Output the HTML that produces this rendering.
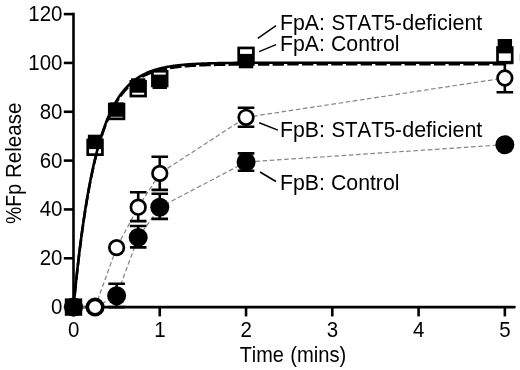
<!DOCTYPE html><html><head><meta charset="utf-8"><title>Fp Release</title>
<style>html,body{margin:0;padding:0;background:#fff}body{width:520px;height:370px;overflow:hidden}svg{display:block}text{font-kerning:none;font-family:"Liberation Sans",Arial,sans-serif;fill:#000}</style></head><body>
<svg width="520" height="370" viewBox="0 0 520 370">
<rect width="520" height="370" fill="#fff"/>
<g stroke="#000" stroke-width="2.6" fill="none">
<path d="M73.50 12.80V308.40"/>
<path d="M72.20 307.10H514.5" stroke-linecap="round"/>
<path d="M63.8 307.10H73.50"/>
<path d="M63.8 258.27H73.50"/>
<path d="M63.8 209.43H73.50"/>
<path d="M63.8 160.60H73.50"/>
<path d="M63.8 111.76H73.50"/>
<path d="M63.8 62.93H73.50"/>
<path d="M63.8 14.10H73.50"/>
<path d="M73.50 307.10V316.4"/>
<path d="M159.77 307.10V316.4"/>
<path d="M246.04 307.10V316.4"/>
<path d="M332.31 307.10V316.4"/>
<path d="M418.58 307.10V316.4"/>
<path d="M504.85 307.10V316.4"/>
</g>
<polyline points="73.5,307.1 95.1,307.1 116.6,247.6 138.2,207.2 159.8,173.4 246.0,117.3 504.8,78.0" fill="none" stroke="#858585" stroke-width="1.2" stroke-dasharray="4.6 2.6"/>
<polyline points="73.5,307.1 95.1,307.1 116.6,295.8 138.2,237.4 159.8,207.3 246.0,162.0 504.8,144.7" fill="none" stroke="#858585" stroke-width="1.2" stroke-dasharray="4.6 2.6"/>
<text transform="translate(62.50 314.00) scale(0.9580 1)" font-size="21.4" text-anchor="end">0</text>
<text transform="translate(62.50 265.17) scale(0.9580 1)" font-size="21.4" text-anchor="end">20</text>
<text transform="translate(62.50 216.33) scale(0.9580 1)" font-size="21.4" text-anchor="end">40</text>
<text transform="translate(62.50 167.50) scale(0.9580 1)" font-size="21.4" text-anchor="end">60</text>
<text transform="translate(62.50 118.66) scale(0.9580 1)" font-size="21.4" text-anchor="end">80</text>
<text transform="translate(62.50 69.83) scale(0.9580 1)" font-size="21.4" text-anchor="end">100</text>
<text transform="translate(62.50 21.00) scale(0.9580 1)" font-size="21.4" text-anchor="end">120</text>
<text transform="translate(73.70 337.00) scale(0.9580 1)" font-size="21.4" text-anchor="middle">0</text>
<text transform="translate(159.97 337.00) scale(0.9580 1)" font-size="21.4" text-anchor="middle">1</text>
<text transform="translate(246.24 337.00) scale(0.9580 1)" font-size="21.4" text-anchor="middle">2</text>
<text transform="translate(332.51 337.00) scale(0.9580 1)" font-size="21.4" text-anchor="middle">3</text>
<text transform="translate(418.78 337.00) scale(0.9580 1)" font-size="21.4" text-anchor="middle">4</text>
<text transform="translate(505.05 337.00) scale(0.9580 1)" font-size="21.4" text-anchor="middle">5</text>
<text y="362.00" font-size="21.4"><tspan x="239.65" textLength="44.23" lengthAdjust="spacingAndGlyphs">Time</tspan> <tspan x="290.25" textLength="56.11" lengthAdjust="spacingAndGlyphs">(mins)</tspan></text>
<text transform="translate(21.00 0) rotate(-90)" font-size="21.4"><tspan x="-223.99" textLength="40.01" lengthAdjust="spacingAndGlyphs">%Fp</tspan> <tspan x="-178.09" textLength="75.61" lengthAdjust="spacingAndGlyphs">Release</tspan></text>
<circle cx="73.50" cy="307.10" r="9.5" fill="#000"/>
<circle cx="95.07" cy="307.10" r="9.5" fill="#000"/>
<path d="M116.63 283.70V307.10M108.33 283.70h16.6M108.33 307.10h16.6" stroke="#000" stroke-width="2.6" fill="none"/>
<circle cx="116.63" cy="295.80" r="9.5" fill="#000"/>
<path d="M138.20 226.00V247.40M129.90 226.00h16.6M129.90 247.40h16.6" stroke="#000" stroke-width="2.6" fill="none"/>
<circle cx="138.20" cy="237.40" r="9.5" fill="#000"/>
<path d="M159.77 193.80V218.90M151.47 193.80h16.6M151.47 218.90h16.6" stroke="#000" stroke-width="2.6" fill="none"/>
<circle cx="159.77" cy="207.30" r="9.5" fill="#000"/>
<path d="M246.04 153.40V170.70M237.74 153.40h16.6M237.74 170.70h16.6" stroke="#000" stroke-width="2.6" fill="none"/>
<circle cx="246.04" cy="162.00" r="9.5" fill="#000"/>
<circle cx="504.85" cy="144.70" r="9.5" fill="#000"/>
<circle cx="73.50" cy="307.10" r="7.3" fill="#fff" stroke="#000" stroke-width="2.7"/>
<circle cx="95.07" cy="307.10" r="7.3" fill="#fff" stroke="#000" stroke-width="2.7"/>
<circle cx="116.63" cy="247.60" r="7.3" fill="#fff" stroke="#000" stroke-width="2.7"/>
<path d="M138.20 192.20V221.10M129.90 192.20h16.6M129.90 221.10h16.6" stroke="#000" stroke-width="2.6" fill="none"/>
<circle cx="138.20" cy="207.20" r="7.3" fill="#fff" stroke="#000" stroke-width="2.7"/>
<path d="M159.77 156.80V189.90M151.47 156.80h16.6M151.47 189.90h16.6" stroke="#000" stroke-width="2.6" fill="none"/>
<circle cx="159.77" cy="173.40" r="7.3" fill="#fff" stroke="#000" stroke-width="2.7"/>
<path d="M246.04 107.80V126.70M237.74 107.80h16.6M237.74 126.70h16.6" stroke="#000" stroke-width="2.6" fill="none"/>
<circle cx="246.04" cy="117.30" r="7.3" fill="#fff" stroke="#000" stroke-width="2.7"/>
<path d="M504.85 63.00V92.30M496.55 63.00h16.6M496.55 92.30h16.6" stroke="#000" stroke-width="2.6" fill="none"/>
<circle cx="504.85" cy="78.00" r="7.3" fill="#fff" stroke="#000" stroke-width="2.7"/>
<rect x="66.15" y="299.75" width="14.7" height="14.7" fill="#fff" stroke="#000" stroke-width="2.7"/>
<rect x="87.72" y="139.95" width="14.7" height="14.7" fill="#fff" stroke="#000" stroke-width="2.7"/>
<rect x="109.28" y="104.15" width="14.7" height="14.7" fill="#fff" stroke="#000" stroke-width="2.7"/>
<rect x="130.85" y="81.35" width="14.7" height="14.7" fill="#fff" stroke="#000" stroke-width="2.7"/>
<rect x="152.42" y="71.25" width="14.7" height="14.7" fill="#fff" stroke="#000" stroke-width="2.7"/>
<rect x="238.69" y="47.95" width="14.7" height="14.7" fill="#fff" stroke="#000" stroke-width="2.7"/>
<rect x="497.50" y="47.55" width="14.7" height="14.7" fill="#fff" stroke="#000" stroke-width="2.7"/>
<rect x="66.30" y="299.90" width="14.4" height="14.4" fill="#000"/>
<rect x="87.87" y="134.70" width="14.4" height="14.4" fill="#000"/>
<rect x="109.43" y="102.40" width="14.4" height="14.4" fill="#000"/>
<rect x="131.00" y="78.30" width="14.4" height="14.4" fill="#000"/>
<rect x="152.57" y="74.60" width="14.4" height="14.4" fill="#000"/>
<rect x="238.84" y="53.90" width="14.4" height="14.4" fill="#000"/>
<rect x="497.65" y="39.00" width="14.4" height="14.4" fill="#000"/>
<polyline points="73.50,307.10 73.50,307.09 73.50,307.05 73.51,306.99 73.52,306.90 73.53,306.79 73.54,306.65 73.56,306.48 73.58,306.30 73.60,306.08 73.62,305.85 73.64,305.58 73.67,305.30 73.70,304.98 73.73,304.65 73.77,304.29 73.81,303.90 73.85,303.49 73.89,303.06 73.93,302.60 73.98,302.12 74.03,301.62 74.08,301.09 74.13,300.54 74.19,299.96 74.25,299.36 74.31,298.74 74.37,298.10 74.44,297.44 74.51,296.75 74.58,296.04 74.65,295.31 74.73,294.56 74.80,293.78 74.89,292.99 74.97,292.17 75.05,291.33 75.14,290.48 75.23,289.60 75.32,288.70 75.42,287.79 75.51,286.85 75.61,285.90 75.72,284.92 75.82,283.93 75.93,282.92 76.04,281.89 76.15,280.84 76.26,279.78 76.38,278.70 76.50,277.60 76.62,276.49 76.74,275.36 76.87,274.22 76.99,273.06 77.12,271.88 77.26,270.69 77.39,269.49 77.53,268.27 77.67,267.04 77.81,265.79 77.96,264.53 78.11,263.26 78.26,261.97 78.41,260.68 78.56,259.37 78.72,258.05 78.88,256.72 79.04,255.38 79.20,254.03 79.37,252.67 79.54,251.30 79.71,249.92 79.89,248.53 80.06,247.13 80.24,245.72 80.42,244.31 80.60,242.89 80.79,241.46 80.98,240.02 81.17,238.58 81.36,237.14 81.56,235.68 81.75,234.22 81.95,232.76 82.16,231.29 82.36,229.82 82.57,228.34 82.78,226.86 82.99,225.38 83.21,223.89 83.42,222.40 83.64,220.91 83.86,219.41 84.09,217.92 84.31,216.42 84.54,214.92 84.77,213.43 85.01,211.93 85.24,210.43 85.48,208.93 85.72,207.43 85.97,205.93 86.21,204.44 86.46,202.94 86.71,201.45 86.96,199.96 87.22,198.47 87.48,196.98 87.74,195.50 88.00,194.02 88.26,192.54 88.53,191.07 88.80,189.60 89.07,188.14 89.35,186.68 89.62,185.22 89.90,183.77 90.18,182.32 90.47,180.88 90.75,179.45 91.04,178.02 91.33,176.60 91.63,175.18 91.92,173.77 92.22,172.37 92.52,170.97 92.83,169.58 93.13,168.20 93.44,166.83 93.75,165.46 94.06,164.10 94.38,162.75 94.69,161.41 95.01,160.07 95.34,158.75 95.66,157.43 95.99,156.12 96.32,154.83 96.65,153.54 96.98,152.26 97.32,150.98 97.66,149.72 98.00,148.47 98.35,147.23 98.69,146.00 99.04,144.77 99.39,143.56 99.75,142.36 100.10,141.17 100.46,139.99 100.82,138.81 101.18,137.65 101.55,136.50 101.92,135.36 102.29,134.24 102.66,133.12 103.03,132.01 103.41,130.92 103.79,129.83 104.17,128.76 104.56,127.69 104.95,126.64 105.33,125.60 105.73,124.57 106.12,123.55 106.52,122.54 106.92,121.55 107.32,120.56 107.72,119.59 108.13,118.63 108.54,117.68 108.95,116.74 109.36,115.81 109.78,114.89 110.19,113.98 110.62,113.09 111.04,112.20 111.46,111.33 111.89,110.47 112.32,109.62 112.75,108.78 113.19,107.95 113.63,107.13 114.07,106.32 114.51,105.53 114.95,104.74 115.40,103.97 115.85,103.21 116.30,102.45 116.75,101.71 117.21,100.98 117.67,100.26 118.13,99.55 118.60,98.85 119.06,98.16 119.53,97.48 120.00,96.81 120.47,96.15 120.95,95.51 121.43,94.87 121.91,94.24 122.39,93.62 122.88,93.01 123.36,92.41 123.85,91.82 124.35,91.24 124.84,90.67 125.34,90.11 125.84,89.56 126.34,89.02 126.84,88.48 127.35,87.96 127.86,87.44 128.37,86.94 128.89,86.44 129.40,85.95 129.92,85.47 130.44,85.00 130.97,84.54 131.49,84.08 132.02,83.63 132.55,83.20 133.09,82.76 133.62,82.34 134.16,81.93 134.70,81.52 135.24,81.12 135.79,80.73 136.33,80.34 136.88,79.97 137.44,79.60 137.99,79.23 138.55,78.88 139.11,78.53 139.67,78.19 140.23,77.85 140.80,77.53 141.37,77.20 141.94,76.89 142.52,76.58 143.09,76.28 143.67,75.98 144.25,75.69 144.84,75.41 145.42,75.13 146.01,74.86 146.60,74.59 147.19,74.33 147.79,74.08 148.39,73.83 148.99,73.58 149.59,73.34 150.20,73.11 150.80,72.88 151.41,72.66 152.02,72.44 152.64,72.23 153.26,72.02 153.88,71.81 154.50,71.61 155.12,71.42 155.75,71.23 156.38,71.04 157.01,70.86 157.64,70.68 158.28,70.51 158.92,70.34 159.56,70.18 160.20,70.01 160.85,69.86 161.50,69.70 162.15,69.55 162.80,69.41 163.46,69.26 164.11,69.13 164.77,68.99 165.44,68.86 166.10,68.73 166.77,68.60 167.44,68.48 168.11,68.36 168.79,68.24 169.46,68.13 170.14,68.02 170.82,67.91 171.51,67.80 172.19,67.70 172.88,67.60 173.57,67.50 174.27,67.41 174.96,67.32 175.66,67.23 176.36,67.14 177.07,67.06 177.77,66.97 178.48,66.89 179.19,66.81 179.90,66.74 180.62,66.66 181.34,66.59 182.06,66.52 182.78,66.45 183.51,66.38 184.23,66.32 184.96,66.26 185.69,66.20 186.43,66.14 187.17,66.08 187.90,66.02 188.65,65.97 189.39,65.92 190.14,65.86 190.89,65.81 191.64,65.77 192.39,65.72 193.15,65.67 193.91,65.63 194.67,65.59 195.43,65.54 196.20,65.50 196.96,65.46 197.73,65.43 198.51,65.39 199.28,65.35 200.06,65.32 200.84,65.28 201.62,65.25 202.41,65.22 203.19,65.19 203.98,65.16 204.78,65.13 205.57,65.10 206.37,65.07 207.17,65.05 207.97,65.02 208.77,65.00 209.58,64.97 210.39,64.95 211.20,64.93 212.01,64.91 212.83,64.88 213.65,64.86 214.47,64.84 215.29,64.83 216.12,64.81 216.94,64.79 217.77,64.77 218.61,64.76 219.44,64.74 220.28,64.72 221.12,64.71 221.96,64.69 222.81,64.68 223.65,64.67 224.50,64.65 225.35,64.64 226.21,64.63 227.07,64.61 227.92,64.60 228.79,64.59 229.65,64.58 230.52,64.57 231.38,64.56 232.26,64.55 233.13,64.54 234.01,64.53 234.88,64.52 235.76,64.52 236.65,64.51 237.53,64.50 238.42,64.49 239.31,64.48 240.20,64.48 241.10,64.47 242.00,64.46 242.90,64.46 243.80,64.45 244.70,64.45 245.61,64.44 246.52,64.43 247.43,64.43 248.35,64.42 249.26,64.42 250.18,64.41 251.10,64.41 252.03,64.41 252.95,64.40 253.88,64.40 254.81,64.39 255.75,64.39 256.68,64.39 257.62,64.38 258.56,64.38 259.50,64.38 260.45,64.37 261.40,64.37 262.35,64.37 263.30,64.36 264.25,64.36 265.21,64.36 266.17,64.36 267.13,64.35 268.10,64.35 269.06,64.35 270.03,64.35 271.01,64.34 271.98,64.34 272.96,64.34 273.94,64.34 274.92,64.34 275.90,64.34 276.89,64.33 277.87,64.33 278.87,64.33 279.86,64.33 280.85,64.33 281.85,64.33 282.85,64.33 283.86,64.32 284.86,64.32 285.87,64.32 286.88,64.32 287.89,64.32 288.91,64.32 289.92,64.32 290.94,64.32 291.97,64.32 292.99,64.32 294.02,64.31 295.05,64.31 296.08,64.31 297.11,64.31 298.15,64.31 299.19,64.31 300.23,64.31 301.27,64.31 302.32,64.31 303.37,64.31 304.42,64.31 305.47,64.31 306.53,64.31 307.58,64.31 308.64,64.31 309.71,64.31 310.77,64.31 311.84,64.31 312.91,64.31 313.98,64.30 315.06,64.30 316.13,64.30 317.21,64.30 318.30,64.30 319.38,64.30 320.47,64.30 321.56,64.30 322.65,64.30 323.74,64.30 324.84,64.30 325.94,64.30 327.04,64.30 328.14,64.30 329.25,64.30 330.36,64.30 331.47,64.30 332.58,64.30 333.70,64.30 334.81,64.30 335.93,64.30 337.06,64.30 338.18,64.30 339.31,64.30 340.44,64.30 341.57,64.30 342.71,64.30 343.84,64.30 344.98,64.30 346.12,64.30 347.27,64.30 348.41,64.30 349.56,64.30 350.72,64.30 351.87,64.30 353.03,64.30 354.18,64.30 355.35,64.30 356.51,64.30 357.67,64.30 358.84,64.30 360.01,64.30 361.19,64.30 362.36,64.30 363.54,64.30 364.72,64.30 365.90,64.30 367.09,64.30 368.28,64.30 369.46,64.30 370.66,64.30 371.85,64.30 373.05,64.30 374.25,64.30 375.45,64.30 376.65,64.30 377.86,64.30 379.07,64.30 380.28,64.30 381.49,64.30 382.71,64.30 383.93,64.30 385.15,64.30 386.37,64.30 387.60,64.30 388.83,64.30 390.06,64.30 391.29,64.30 392.53,64.30 393.76,64.30 395.00,64.30 396.25,64.30 397.49,64.30 398.74,64.30 399.99,64.30 401.24,64.30 402.50,64.30 403.75,64.30 405.01,64.30 406.27,64.30 407.54,64.30 408.80,64.30 410.07,64.30 411.34,64.30 412.62,64.30 413.89,64.30 415.17,64.30 416.45,64.30 417.74,64.30 419.02,64.30 420.31,64.30 421.60,64.30 422.89,64.30 424.19,64.30 425.49,64.30 426.79,64.30 428.09,64.30 429.39,64.30 430.70,64.30 432.01,64.30 433.32,64.30 434.64,64.30 435.95,64.30 437.27,64.30 438.59,64.30 439.92,64.30 441.25,64.30 442.57,64.30 443.91,64.30 445.24,64.30 446.57,64.30 447.91,64.30 449.25,64.30 450.60,64.30 451.94,64.30 453.29,64.30 454.64,64.30 455.99,64.30 457.35,64.30 458.71,64.30 460.07,64.30 461.43,64.30 462.79,64.30 464.16,64.30 465.53,64.30 466.90,64.30 468.28,64.30 469.65,64.30 471.03,64.30 472.41,64.30 473.80,64.30 475.18,64.30 476.57,64.30 477.96,64.30 479.36,64.30 480.75,64.30 482.15,64.30 483.55,64.30 484.96,64.30 486.36,64.30 487.77,64.30 489.18,64.30 490.59,64.30 492.01,64.30 493.42,64.30 494.84,64.30 496.27,64.30 497.69,64.30 499.12,64.30 500.55,64.30 501.98,64.30 503.41,64.30 504.85,64.30" fill="none" stroke="#000" stroke-width="2.6" stroke-dasharray="11.40 3.27" stroke-dashoffset="2.07"/>
<polyline points="73.50,307.10 73.50,307.09 73.50,307.05 73.51,306.99 73.52,306.90 73.53,306.78 73.54,306.64 73.56,306.48 73.58,306.29 73.60,306.08 73.62,305.84 73.64,305.57 73.67,305.28 73.70,304.97 73.73,304.63 73.77,304.27 73.81,303.88 73.85,303.47 73.89,303.03 73.93,302.57 73.98,302.09 74.03,301.58 74.08,301.05 74.13,300.49 74.19,299.91 74.25,299.31 74.31,298.69 74.37,298.04 74.44,297.37 74.51,296.68 74.58,295.97 74.65,295.23 74.73,294.47 74.80,293.69 74.89,292.89 74.97,292.07 75.05,291.23 75.14,290.37 75.23,289.48 75.32,288.58 75.42,287.66 75.51,286.72 75.61,285.75 75.72,284.77 75.82,283.78 75.93,282.76 76.04,281.72 76.15,280.67 76.26,279.60 76.38,278.51 76.50,277.41 76.62,276.29 76.74,275.15 76.87,274.00 76.99,272.83 77.12,271.65 77.26,270.45 77.39,269.24 77.53,268.01 77.67,266.77 77.81,265.52 77.96,264.25 78.11,262.97 78.26,261.67 78.41,260.37 78.56,259.05 78.72,257.72 78.88,256.39 79.04,255.04 79.20,253.68 79.37,252.30 79.54,250.92 79.71,249.54 79.89,248.14 80.06,246.73 80.24,245.32 80.42,243.89 80.60,242.46 80.79,241.02 80.98,239.58 81.17,238.13 81.36,236.67 81.56,235.21 81.75,233.74 81.95,232.27 82.16,230.79 82.36,229.30 82.57,227.82 82.78,226.33 82.99,224.83 83.21,223.34 83.42,221.84 83.64,220.34 83.86,218.83 84.09,217.33 84.31,215.82 84.54,214.31 84.77,212.80 85.01,211.30 85.24,209.79 85.48,208.28 85.72,206.77 85.97,205.26 86.21,203.76 86.46,202.25 86.71,200.75 86.96,199.25 87.22,197.75 87.48,196.25 87.74,194.76 88.00,193.27 88.26,191.78 88.53,190.30 88.80,188.82 89.07,187.35 89.35,185.88 89.62,184.41 89.90,182.95 90.18,181.50 90.47,180.05 90.75,178.60 91.04,177.16 91.33,175.73 91.63,174.31 91.92,172.89 92.22,171.47 92.52,170.07 92.83,168.67 93.13,167.28 93.44,165.90 93.75,164.52 94.06,163.15 94.38,161.79 94.69,160.44 95.01,159.10 95.34,157.76 95.66,156.44 95.99,155.12 96.32,153.82 96.65,152.52 96.98,151.23 97.32,149.95 97.66,148.68 98.00,147.42 98.35,146.17 98.69,144.93 99.04,143.70 99.39,142.48 99.75,141.27 100.10,140.07 100.46,138.88 100.82,137.70 101.18,136.53 101.55,135.37 101.92,134.22 102.29,133.09 102.66,131.96 103.03,130.85 103.41,129.75 103.79,128.65 104.17,127.57 104.56,126.50 104.95,125.44 105.33,124.40 105.73,123.36 106.12,122.33 106.52,121.32 106.92,120.32 107.32,119.33 107.72,118.34 108.13,117.38 108.54,116.42 108.95,115.47 109.36,114.54 109.78,113.61 110.19,112.70 110.62,111.80 111.04,110.91 111.46,110.03 111.89,109.16 112.32,108.31 112.75,107.46 113.19,106.63 113.63,105.80 114.07,104.99 114.51,104.19 114.95,103.40 115.40,102.62 115.85,101.85 116.30,101.10 116.75,100.35 117.21,99.61 117.67,98.89 118.13,98.17 118.60,97.47 119.06,96.77 119.53,96.09 120.00,95.42 120.47,94.75 120.95,94.10 121.43,93.46 121.91,92.83 122.39,92.20 122.88,91.59 123.36,90.99 123.85,90.39 124.35,89.81 124.84,89.24 125.34,88.67 125.84,88.12 126.34,87.57 126.84,87.03 127.35,86.51 127.86,85.99 128.37,85.48 128.89,84.98 129.40,84.48 129.92,84.00 130.44,83.53 130.97,83.06 131.49,82.60 132.02,82.15 132.55,81.71 133.09,81.28 133.62,80.85 134.16,80.43 134.70,80.02 135.24,79.62 135.79,79.23 136.33,78.84 136.88,78.46 137.44,78.09 137.99,77.72 138.55,77.36 139.11,77.01 139.67,76.67 140.23,76.33 140.80,76.00 141.37,75.68 141.94,75.36 142.52,75.05 143.09,74.75 143.67,74.45 144.25,74.16 144.84,73.87 145.42,73.59 146.01,73.32 146.60,73.05 147.19,72.79 147.79,72.53 148.39,72.28 148.99,72.03 149.59,71.79 150.20,71.56 150.80,71.33 151.41,71.10 152.02,70.88 152.64,70.67 153.26,70.46 153.88,70.25 154.50,70.05 155.12,69.86 155.75,69.66 156.38,69.48 157.01,69.29 157.64,69.11 158.28,68.94 158.92,68.77 159.56,68.60 160.20,68.44 160.85,68.28 161.50,68.13 162.15,67.98 162.80,67.83 163.46,67.69 164.11,67.55 164.77,67.41 165.44,67.28 166.10,67.15 166.77,67.02 167.44,66.90 168.11,66.77 168.79,66.66 169.46,66.54 170.14,66.43 170.82,66.32 171.51,66.22 172.19,66.11 172.88,66.01 173.57,65.91 174.27,65.82 174.96,65.73 175.66,65.64 176.36,65.55 177.07,65.46 177.77,65.38 178.48,65.30 179.19,65.22 179.90,65.14 180.62,65.07 181.34,64.99 182.06,64.92 182.78,64.85 183.51,64.79 184.23,64.72 184.96,64.66 185.69,64.60 186.43,64.54 187.17,64.48 187.90,64.42 188.65,64.37 189.39,64.32 190.14,64.26 190.89,64.21 191.64,64.16 192.39,64.12 193.15,64.07 193.91,64.03 194.67,63.98 195.43,63.94 196.20,63.90 196.96,63.86 197.73,63.82 198.51,63.78 199.28,63.75 200.06,63.71 200.84,63.68 201.62,63.65 202.41,63.61 203.19,63.58 203.98,63.55 204.78,63.52 205.57,63.50 206.37,63.47 207.17,63.44 207.97,63.42 208.77,63.39 209.58,63.37 210.39,63.34 211.20,63.32 212.01,63.30 212.83,63.28 213.65,63.26 214.47,63.24 215.29,63.22 216.12,63.20 216.94,63.18 217.77,63.16 218.61,63.15 219.44,63.13 220.28,63.11 221.12,63.10 221.96,63.08 222.81,63.07 223.65,63.06 224.50,63.04 225.35,63.03 226.21,63.02 227.07,63.01 227.92,62.99 228.79,62.98 229.65,62.97 230.52,62.96 231.38,62.95 232.26,62.94 233.13,62.93 234.01,62.92 234.88,62.91 235.76,62.91 236.65,62.90 237.53,62.89 238.42,62.88 239.31,62.87 240.20,62.87 241.10,62.86 242.00,62.85 242.90,62.85 243.80,62.84 244.70,62.83 245.61,62.83 246.52,62.82 247.43,62.82 248.35,62.81 249.26,62.81 250.18,62.80 251.10,62.80 252.03,62.79 252.95,62.79 253.88,62.79 254.81,62.78 255.75,62.78 256.68,62.77 257.62,62.77 258.56,62.77 259.50,62.76 260.45,62.76 261.40,62.76 262.35,62.76 263.30,62.75 264.25,62.75 265.21,62.75 266.17,62.74 267.13,62.74 268.10,62.74 269.06,62.74 270.03,62.74 271.01,62.73 271.98,62.73 272.96,62.73 273.94,62.73 274.92,62.73 275.90,62.72 276.89,62.72 277.87,62.72 278.87,62.72 279.86,62.72 280.85,62.72 281.85,62.72 282.85,62.71 283.86,62.71 284.86,62.71 285.87,62.71 286.88,62.71 287.89,62.71 288.91,62.71 289.92,62.71 290.94,62.71 291.97,62.71 292.99,62.70 294.02,62.70 295.05,62.70 296.08,62.70 297.11,62.70 298.15,62.70 299.19,62.70 300.23,62.70 301.27,62.70 302.32,62.70 303.37,62.70 304.42,62.70 305.47,62.70 306.53,62.70 307.58,62.70 308.64,62.70 309.71,62.69 310.77,62.69 311.84,62.69 312.91,62.69 313.98,62.69 315.06,62.69 316.13,62.69 317.21,62.69 318.30,62.69 319.38,62.69 320.47,62.69 321.56,62.69 322.65,62.69 323.74,62.69 324.84,62.69 325.94,62.69 327.04,62.69 328.14,62.69 329.25,62.69 330.36,62.69 331.47,62.69 332.58,62.69 333.70,62.69 334.81,62.69 335.93,62.69 337.06,62.69 338.18,62.69 339.31,62.69 340.44,62.69 341.57,62.69 342.71,62.69 343.84,62.69 344.98,62.69 346.12,62.69 347.27,62.69 348.41,62.69 349.56,62.69 350.72,62.69 351.87,62.69 353.03,62.69 354.18,62.69 355.35,62.69 356.51,62.69 357.67,62.69 358.84,62.69 360.01,62.69 361.19,62.69 362.36,62.69 363.54,62.69 364.72,62.69 365.90,62.69 367.09,62.69 368.28,62.69 369.46,62.69 370.66,62.69 371.85,62.69 373.05,62.69 374.25,62.69 375.45,62.69 376.65,62.69 377.86,62.69 379.07,62.69 380.28,62.69 381.49,62.69 382.71,62.69 383.93,62.69 385.15,62.69 386.37,62.69 387.60,62.69 388.83,62.69 390.06,62.69 391.29,62.69 392.53,62.69 393.76,62.69 395.00,62.69 396.25,62.69 397.49,62.69 398.74,62.69 399.99,62.69 401.24,62.69 402.50,62.69 403.75,62.69 405.01,62.69 406.27,62.69 407.54,62.69 408.80,62.69 410.07,62.69 411.34,62.69 412.62,62.69 413.89,62.69 415.17,62.69 416.45,62.69 417.74,62.69 419.02,62.69 420.31,62.69 421.60,62.69 422.89,62.69 424.19,62.69 425.49,62.69 426.79,62.69 428.09,62.69 429.39,62.69 430.70,62.69 432.01,62.69 433.32,62.69 434.64,62.69 435.95,62.69 437.27,62.69 438.59,62.69 439.92,62.69 441.25,62.69 442.57,62.69 443.91,62.69 445.24,62.69 446.57,62.69 447.91,62.69 449.25,62.69 450.60,62.69 451.94,62.69 453.29,62.69 454.64,62.69 455.99,62.69 457.35,62.69 458.71,62.69 460.07,62.69 461.43,62.69 462.79,62.69 464.16,62.69 465.53,62.69 466.90,62.69 468.28,62.69 469.65,62.69 471.03,62.69 472.41,62.69 473.80,62.69 475.18,62.69 476.57,62.69 477.96,62.69 479.36,62.69 480.75,62.69 482.15,62.69 483.55,62.69 484.96,62.69 486.36,62.69 487.77,62.69 489.18,62.69 490.59,62.69 492.01,62.69 493.42,62.69 494.84,62.69 496.27,62.69 497.69,62.69 499.12,62.69 500.55,62.69 501.98,62.69 503.41,62.69 504.85,62.69" fill="none" stroke="#000" stroke-width="2.6"/>
<g stroke="#000" stroke-width="1.5" fill="none">
<path d="M257.8 38.3L276 25.6"/>
<path d="M259.1 51.6L276 44.6"/>
<path d="M259.2 122.8L277.9 130.1"/>
<path d="M260 172L276 181.5"/>
</g>
<text y="29.80" font-size="21.6"><tspan x="279.96" textLength="44.88" lengthAdjust="spacingAndGlyphs">FpA:</tspan> <tspan x="331.47" textLength="70.33" lengthAdjust="spacingAndGlyphs">STAT5-</tspan><tspan x="402.20" textLength="80.16" lengthAdjust="spacingAndGlyphs">deficient</tspan></text>
<text y="51.20" font-size="21.6"><tspan x="279.96" textLength="44.88" lengthAdjust="spacingAndGlyphs">FpA:</tspan> <tspan x="331.02" textLength="68.40" lengthAdjust="spacingAndGlyphs">Control</tspan></text>
<text y="137.20" font-size="21.6"><tspan x="279.96" textLength="44.88" lengthAdjust="spacingAndGlyphs">FpB:</tspan> <tspan x="331.47" textLength="70.33" lengthAdjust="spacingAndGlyphs">STAT5-</tspan><tspan x="402.20" textLength="80.16" lengthAdjust="spacingAndGlyphs">deficient</tspan></text>
<text y="190.30" font-size="21.6"><tspan x="279.96" textLength="44.88" lengthAdjust="spacingAndGlyphs">FpB:</tspan> <tspan x="331.02" textLength="68.40" lengthAdjust="spacingAndGlyphs">Control</tspan></text>
<rect x="519" y="54" width="1" height="7" fill="#dcdcdc"/>
</svg></body></html>
